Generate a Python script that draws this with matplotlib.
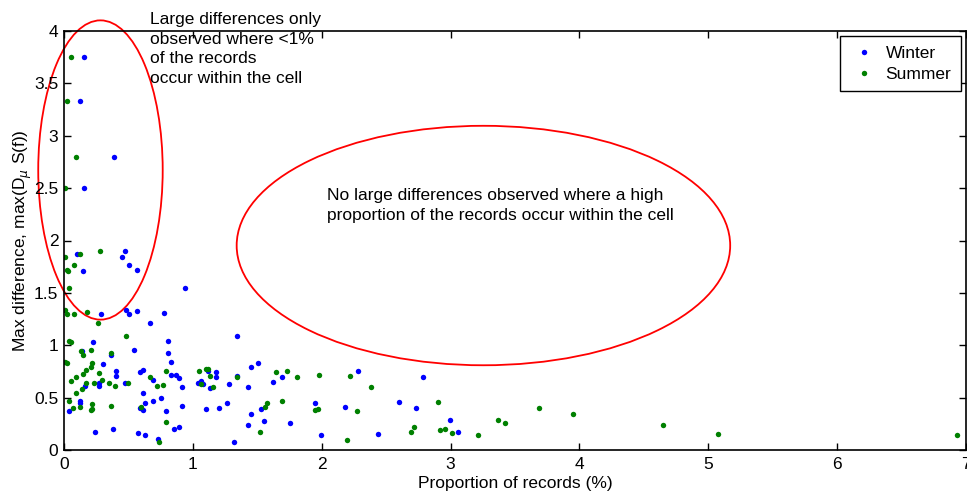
import matplotlib
matplotlib.use('Agg')
import matplotlib.pyplot as plt
from matplotlib.patches import Ellipse
from matplotlib.ticker import FormatStrFormatter

plt.rcParams['font.family'] = ['Liberation Sans', 'DejaVu Sans']
plt.rcParams['mathtext.fontset'] = 'custom'
plt.rcParams['mathtext.rm'] = 'Liberation Sans'

# Winter (azul)
winter_x = [0.158, 0.122, 0.387, 0.158, 0.104, 0.470, 0.450, 0.507, 0.569, 0.146,
            0.938, 0.483, 0.507, 0.569, 0.286, 0.774, 0.670, 1.344, 0.224, 0.810,
            0.546, 0.143, 0.808, 0.364, 0.829, 1.504, 0.306, 1.450, 0.405, 0.613,
            0.592, 1.120, 1.180, 0.829, 0.873, 0.405, 0.896, 1.180, 1.340, 1.689,
            0.691, 0.268, 0.470, 1.040, 1.060, 1.080, 1.284, 1.624, 0.160, 0.268,
            0.917, 1.135, 1.426, 0.610, 0.631, 0.592, 0.610, 0.688, 0.754, 0.917,
            0.125, 0.125, 0.039, 0.795, 1.101, 1.200, 1.263, 1.525, 1.951, 1.450,
            1.426, 1.549, 1.754, 0.852, 0.896, 0.384, 0.242, 0.571, 0.631, 0.730,
            1.320, 1.993, 2.278, 2.177, 2.440, 2.603, 2.730, 2.785, 2.993, 3.058]
winter_y = [3.75, 3.33, 2.80, 2.50, 1.873, 1.898, 1.838, 1.768, 1.714, 1.708,
            1.543, 1.340, 1.302, 1.327, 1.295, 1.311, 1.216, 1.092, 1.032, 1.041,
            0.952, 0.946, 0.930, 0.911, 0.841, 0.832, 0.825, 0.790, 0.755, 0.762,
            0.740, 0.755, 0.745, 0.720, 0.720, 0.705, 0.689, 0.695, 0.705, 0.695,
            0.667, 0.641, 0.635, 0.635, 0.660, 0.626, 0.626, 0.645, 0.610, 0.610,
            0.603, 0.590, 0.600, 0.540, 0.444, 0.397, 0.381, 0.470, 0.492, 0.419,
            0.470, 0.450, 0.375, 0.371, 0.390, 0.400, 0.444, 0.390, 0.444, 0.340,
            0.235, 0.273, 0.254, 0.200, 0.216, 0.197, 0.168, 0.159, 0.140, 0.102,
            0.073, 0.140, 0.755, 0.410, 0.149, 0.454, 0.400, 0.695, 0.289, 0.168]

# Summer (verde)
summer_x = [0.052, 0.026, 0.096, 0.008, 0.008, 0.122, 0.278, 0.081, 0.021, 0.029,
            0.036, 0.008, 0.023, 0.081, 0.179, 0.265, 0.483, 0.039, 0.052, 0.135,
            0.208, 0.364, 0.151, 0.008, 0.023, 0.221, 0.208, 0.169, 0.151, 0.268,
            0.670, 0.795, 0.055, 0.094, 0.169, 0.138, 0.236, 0.294, 0.351, 0.392,
            0.496, 0.094, 0.039, 0.125, 0.068, 0.221, 0.210, 0.221, 0.364, 0.600,
            0.724, 0.771, 0.795, 0.740, 1.044, 1.100, 1.120, 1.130, 1.065, 1.159,
            1.340, 1.645, 1.733, 1.808, 1.977, 1.689, 1.574, 1.559, 1.520, 1.951,
            1.970, 2.219, 2.382, 2.270, 2.193, 2.902, 2.715, 2.694, 2.915, 2.959,
            3.014, 3.210, 3.367, 3.424, 3.686, 3.953, 4.648, 5.079, 6.934]
summer_y = [3.75, 3.33, 2.80, 2.50, 1.841, 1.873, 1.898, 1.768, 1.714, 1.708,
            1.543, 1.333, 1.295, 1.302, 1.314, 1.216, 1.092, 1.041, 1.032, 0.946,
            0.952, 0.930, 0.911, 0.841, 0.830, 0.832, 0.794, 0.762, 0.721, 0.737,
            0.698, 0.755, 0.660, 0.698, 0.635, 0.587, 0.641, 0.667, 0.641, 0.610,
            0.635, 0.540, 0.470, 0.410, 0.397, 0.438, 0.380, 0.390, 0.419, 0.413,
            0.610, 0.625, 0.270, 0.073, 0.755, 0.775, 0.770, 0.705, 0.630, 0.600,
            0.695, 0.746, 0.755, 0.695, 0.720, 0.470, 0.444, 0.407, 0.168, 0.381,
            0.390, 0.705, 0.600, 0.368, 0.098, 0.454, 0.219, 0.168, 0.194, 0.200,
            0.159, 0.140, 0.289, 0.254, 0.403, 0.340, 0.235, 0.149, 0.140]

fs = 12.5

fig = plt.figure(figsize=(9.67, 4.96), dpi=100)
ax = fig.add_axes([64/967, 1 - 450/496, 902/967, 419/496])

ax.plot(winter_x, winter_y, 'o', color=(0, 0, 1), markersize=3.9, markeredgewidth=0, label='Winter')
ax.plot(summer_x, summer_y, 'o', color=(0, 0.5, 0), markersize=3.9, markeredgewidth=0, label='Summer')

# Elipses rojas (anotaciones)
ax.add_patch(Ellipse((0.283, 2.673), 0.966, 2.857, fill=False, edgecolor='red', lw=1.3, clip_on=False))
ax.add_patch(Ellipse((3.255, 1.952), 3.83, 2.286, fill=False, edgecolor='red', lw=1.3, clip_on=False))

fig.text(150/967, 1 - 12/496, "Large differences only\nobserved where <1%\nof the records\noccur within the cell",
         fontsize=fs, va='top', ha='left', linespacing=1.38)
ax.text(2.04, 2.33, "No large differences observed where a high\nproportion of the records occur within the cell",
        fontsize=fs, va='center', ha='left', linespacing=1.42)

ax.set_xlim(0, 7)
ax.set_ylim(0, 4)
ax.set_xticks(range(0, 8))
ax.set_yticks([0, 0.5, 1, 1.5, 2, 2.5, 3, 3.5, 4])
ax.yaxis.set_major_formatter(FormatStrFormatter('%g'))
ax.tick_params(direction='in', top=True, right=True, length=5, labelsize=fs, width=1)
ax.tick_params(axis='x', pad=5)
ax.tick_params(axis='y', pad=4)
for s in ax.spines.values():
    s.set_linewidth(1.2)

ax.set_xlabel("Proportion of records (%)", fontsize=fs, labelpad=3)
ax.set_ylabel(r"Max difference, max(D$_{\mu}$ S(f))", fontsize=fs, labelpad=0)

leg = ax.legend(loc='upper right', fontsize=fs, fancybox=False, edgecolor='black',
                framealpha=1, borderaxespad=0.3, handletextpad=0.45, handlelength=1.6,
                labelspacing=0.32, borderpad=0.55)
leg.get_frame().set_linewidth(1)

plt.savefig("out.png", dpi=100)
